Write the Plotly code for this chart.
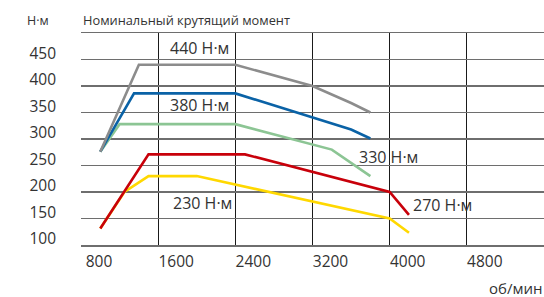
import plotly.graph_objects as go

# Data (rpm, N·m)
rpm_440 = [1000, 1400, 2400, 3200, 3600, 3800]
tq_440 = [276, 440, 440, 400, 368, 350]

rpm_380 = [1000, 1350, 2400, 3600, 3800]
tq_380 = [276, 386, 386, 318, 301]

rpm_330 = [1000, 1200, 2400, 3400, 3800]
tq_330 = [276, 328, 328, 280, 230]

rpm_270 = [1000, 1500, 2500, 4000, 4200]
tq_270 = [131, 271, 271, 200, 157]

rpm_230 = [1000, 1250, 1500, 2000, 4000, 4200]
tq_230 = [131, 200, 230, 230, 150, 123]

x_ticks = [800, 1600, 2400, 3200, 4000, 4800]
y_ticks = [100, 150, 200, 250, 300, 350, 400, 450]

labels = ["440 Н·м", "380 Н·м", "330 Н·м", "270 Н·м", "230 Н·м"]
label_x = [2030, 2030, 3990, 4550, 2060]
label_y = [471, 365, 266, 175, 179]

series = [
    (rpm_440, tq_440, "#8c8c8c"),
    (rpm_380, tq_380, "#0a62a6"),
    (rpm_330, tq_330, "#8cc594"),
    (rpm_270, tq_270, "#c8000a"),
    (rpm_230, tq_230, "#ffd800"),
]

fig = go.Figure()
# draw yellow first so red overlays it at the start
for xs, ys, c in reversed(series):
    fig.add_trace(go.Scatter(x=xs, y=ys, mode="lines",
                             line=dict(color=c, width=2.6),
                             hoverinfo="skip", showlegend=False))

font = "Open Sans, Roboto, Arial, sans-serif"
for t, xv, yv in zip(labels, label_x, label_y):
    fig.add_annotation(x=xv, y=yv, xref="x", yref="y", text=t, showarrow=False,
                       font=dict(family=font, size=16, color="#333333"),
                       xanchor="center", yanchor="middle")

fig.add_annotation(x=-0.121, y=1.0, xref="paper", yref="paper", yshift=2,
                   text="Н·м", showarrow=False, xanchor="left", yanchor="bottom",
                   font=dict(family=font, size=12.5, color="#333333"))
fig.add_annotation(xref="paper", yref="paper", x=0.0, y=1.0, yshift=2,
                   text="Номинальный крутящий момент", showarrow=False,
                   xanchor="left", yanchor="bottom",
                   font=dict(family=font, size=12.8, color="#333333"))
fig.add_annotation(xref="paper", yref="paper", x=1.0, y=0, yshift=-31,
                   text="об/мин", showarrow=False, xanchor="right", yanchor="top",
                   font=dict(family=font, size=15, color="#333333"))

fig.update_xaxes(range=[800, 5600], tickvals=x_ticks, ticktext=[str(v) for v in x_ticks],
                 showgrid=True, gridcolor="#1a1a1a", gridwidth=1,
                 showline=True, mirror=True, linecolor="#6e6e6e", linewidth=1.5,
                 ticks="", ticklabelshift=18, ticklabelstandoff=2,
                 zeroline=False, automargin=False,
                 tickfont=dict(family=font, size=15.5, color="#333333"))
fig.update_yaxes(range=[100, 500], tickvals=y_ticks, ticktext=[str(v) for v in y_ticks],
                 showgrid=True, gridcolor="#6e6e6e", gridwidth=1.5,
                 showline=False, ticks="", ticklabelshift=-6, ticklabelstandoff=24,
                 zeroline=False, automargin=False,
                 tickfont=dict(family=font, size=15.5, color="#333333"))

fig.update_layout(width=544, height=297,
                  margin=dict(l=81, r=0, t=33, b=52, autoexpand=False),
                  paper_bgcolor="white", plot_bgcolor="white")

fig.write_html("out.html", config={"displayModeBar": False, "staticPlot": True},
               post_script="document.body.style.margin='0';document.body.style.overflow='hidden';")
